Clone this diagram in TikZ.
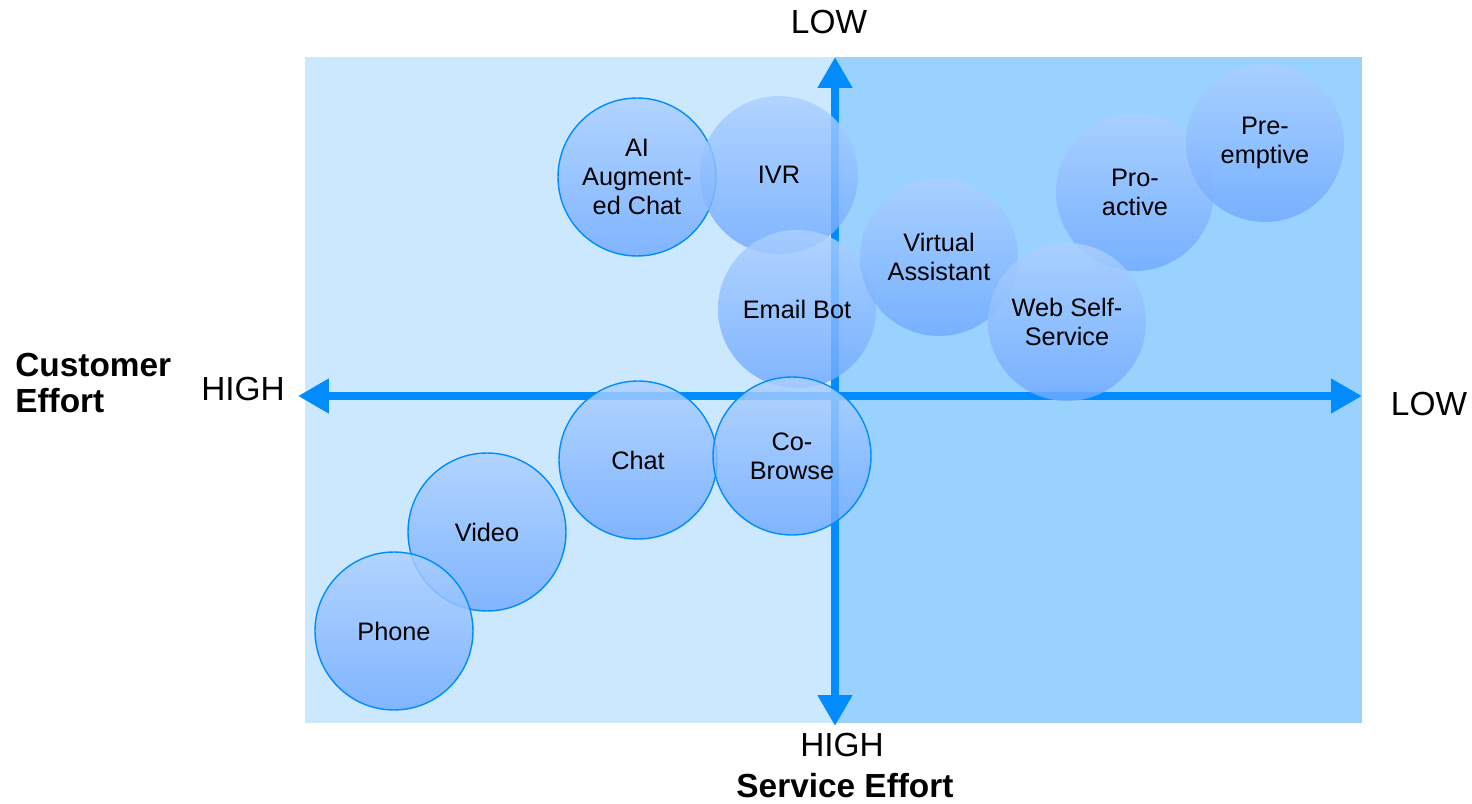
\documentclass[tikz,border=0pt]{standalone}
\usepackage{fontspec}
\setmainfont{Liberation Sans}
\usepackage{tikz}
\usetikzlibrary{arrows.meta}
\usetikzlibrary{positioning}

\definecolor{paleblue}{RGB}{204,232,255}
\definecolor{skyblue}{RGB}{153,210,255}
\definecolor{axisblue}{RGB}{0,140,255}
\definecolor{bubbletop}{RGB}{172,208,255}
\definecolor{bubblebottom}{RGB}{112,170,255}

\begin{document}
\begin{tikzpicture}[x=0.02cm, y=-0.02cm,
	      axis/.style={line width=0.16cm, axisblue,
	        {Triangle[length=0.62cm,width=0.66cm]}-{Triangle[length=0.62cm,width=0.66cm]}},
	      channel/.style={circle, minimum size=3.16cm, inner sep=0pt, align=center,
	        top color=bubbletop, bottom color=bubblebottom, fill opacity=0.82,
	        text opacity=1, font=\fontsize{14.4}{16.5}\selectfont},
	      rim/.style={draw=axisblue, line width=0.8pt},
	      tag/.style={font=\fontsize{19}{22}\selectfont},
	      title/.style={font=\fontsize{19}{21}\selectfont\bfseries}]
\useasboundingbox (0,0) rectangle (1472,804);
\fill[paleblue] (305,57) rectangle (835,723);
\fill[skyblue] (835,57) rectangle (1362,723);

\coordinate (west) at (298,396);
\coordinate (east) at (1362,396);
\coordinate (north) at (835,57);
\coordinate (south) at (835,726);
\draw[axis] (west) -- (east);
\draw[axis] (north) -- (south);

\node [channel, rim] (aichat) at (637,177) {AI\\Augment-\\ed Chat};
\node [channel] (ivr) at (779,175) {IVR};
\node [channel] (emailbot) at (797,309) {Email Bot};
\node [channel] (assistant) at (939,257) {Virtual\\Assistant};
\node [channel] (proactive) at (1135,192) {Pro-\\active};
\node [channel] (preemptive) at (1265,143) {Pre-\\emptive};
\node [channel] (selfservice) at (1067,322) {Web Self-\\Service};
\node [channel, rim] (chat) at (638,460) {Chat};
\node [channel, rim] (cobrowse) at (792,456) {Co-\\Browse};
\node [channel, rim] (video) at (487,532) {Video};
\node [channel, rim] (phone) at (394,631) {Phone};

\node [tag] (toplow) at (829,22) {LOW};
\node [tag] (bottomhigh) at (842,745) {HIGH};
\node [title, inner sep=0pt] (service) at (845,786) {Service Effort};
\node [tag] (lefthigh) at (243,389) {HIGH};
\node [tag] (rightlow) at (1429,404) {LOW};
\node [title, anchor=west, align=left, inner sep=0pt] (customer) at (15,383) {Customer\\Effort};
\end{tikzpicture}
\end{document}
